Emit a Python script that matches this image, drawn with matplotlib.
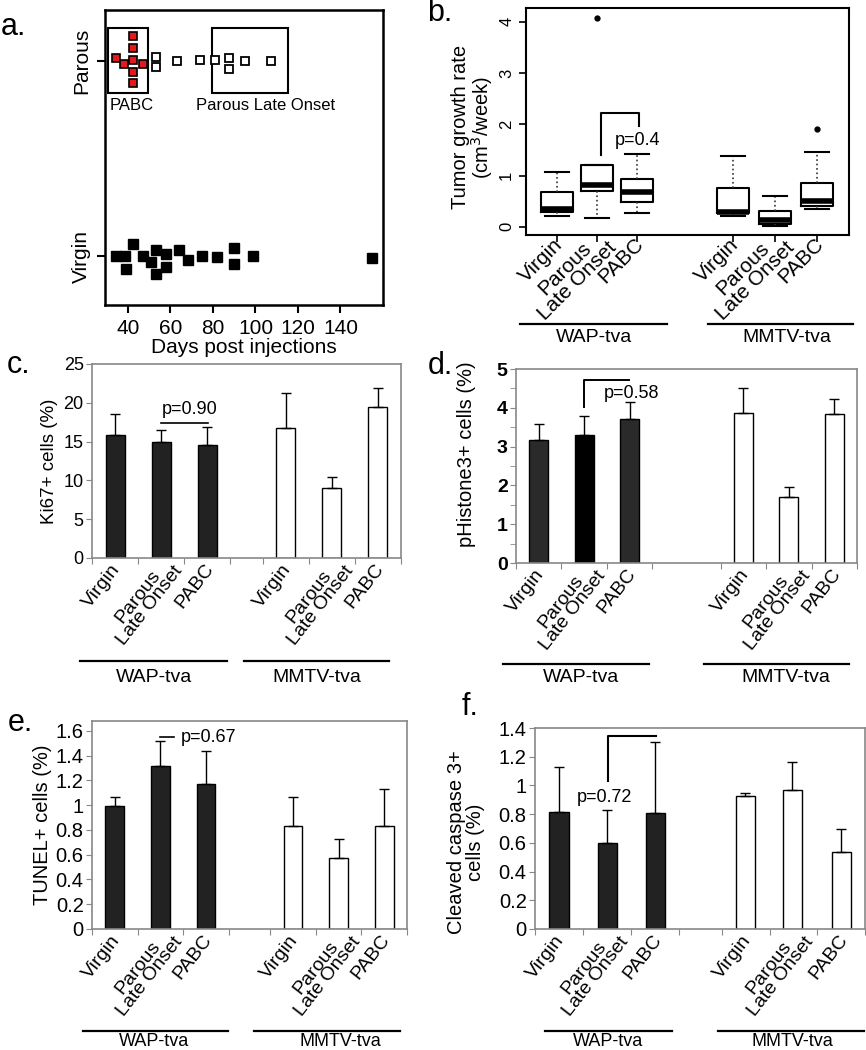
import matplotlib
matplotlib.use("Agg")
import matplotlib.pyplot as plt
from matplotlib.patches import Rectangle
from matplotlib.lines import Line2D
from matplotlib.transforms import ScaledTranslation

plt.rcParams["font.family"] = ["Liberation Sans", "DejaVu Sans"]

# ==========================================
# Data
# ==========================================

# panel a: onset (days post injection) per tumor, with stacking offsets
pabc_days = [34.2, 38.0, 42.2, 42.2, 42.2, 42.2, 42.2, 47.0]
pabc_y = [2.014, 1.983, 2.126, 2.065, 2.003, 1.942, 1.884, 1.983]
late_days = [53.1, 53.1, 63.1, 73.9, 81.1, 87.7, 87.7, 95.0, 107.2]
late_y = [2.017, 1.970, 2.0, 2.003, 2.003, 2.014, 1.960, 2.0, 2.0]
virgin_days = [34.5, 38.4, 39.1, 42.2, 47.0, 50.9, 53.1, 53.1, 58.0,
               58.0, 64.2, 68.1, 75.0, 82.0, 90.0, 90.0, 98.9, 154.8]
virgin_y = [1.0, 1.0, 0.935, 1.061, 1.0, 0.969, 1.034, 0.911, 1.010,
            0.942, 1.031, 0.980, 1.0, 0.997, 1.041, 0.962, 1.0, 0.993]
group_labels = ["Virgin", "Parous"]
pabc_window = (30.6, 49.4)
late_window = (79.4, 115.2)

# panel b: tumor growth rate box plot stats
box_lo = [0.22, 0.18, 0.27, 0.22, 0.02, 0.34]
box_q1 = [0.29, 0.70, 0.48, 0.27, 0.06, 0.40]
box_med = [0.34, 0.82, 0.68, 0.29, 0.14, 0.50]
box_q3 = [0.68, 1.21, 0.94, 0.75, 0.30, 0.86]
box_hi = [1.06, 1.21, 1.43, 1.38, 0.61, 1.46]
box_out = [[], [4.08], [], [], [], [1.90]]

categories = ["Virgin", "Parous\nLate Onset", "PABC"] * 2

# panels c-f: mean and upper error
ki67_mean = [15.8, 14.9, 14.5, 16.75, 9.05, 19.5]
ki67_err = [2.7, 1.6, 2.4, 4.55, 1.35, 2.4]
ph3_mean = [3.16, 3.30, 3.70, 3.87, 1.69, 3.84]
ph3_err = [0.43, 0.50, 0.46, 0.65, 0.27, 0.38]
tunel_mean = [0.995, 1.32, 1.17, 0.83, 0.573, 0.834]
tunel_err = [0.075, 0.20, 0.27, 0.235, 0.157, 0.293]
casp_mean = [0.818, 0.601, 0.811, 0.925, 0.969, 0.538]
casp_err = [0.309, 0.231, 0.491, 0.025, 0.193, 0.156]

W, H = 866, 1050
fig = plt.figure(figsize=(W / 100, H / 100), dpi=100)


def rect(x0, y0, x1, y1):
    return [x0 / W, 1 - y1 / H, (x1 - x0) / W, (y1 - y0) / H]


def fig_line(x0, x1, y):
    fig.add_artist(Line2D([x0 / W, x1 / W], [1 - y / H, 1 - y / H],
                          transform=fig.transFigure, color="black", lw=1.6))


def fig_text(x, y, s, **kw):
    fig.text(x / W, 1 - y / H, s, **kw)


def groups(wap, mmtv, yline, ytext, va="center", size=14):
    fig_line(wap[0], wap[1], yline)
    fig_line(mmtv[0], mmtv[1], yline)
    fig_text(wap[2], ytext, "WAP-tva", ha="center", va=va, fontsize=size)
    fig_text(mmtv[2], ytext, "MMTV-tva", ha="center", va=va, fontsize=size)


def cat_labels(ax, pos, single, double, rot, size):
    # rotated category names, centred a fixed pixel offset below each bar
    for x, lab in zip(pos, categories):
        dx, dy = double if "\n" in lab else single
        tr = ax.get_xaxis_transform() + ScaledTranslation(
            dx / 100, -dy / 100, fig.dpi_scale_trans)
        ax.text(x, 0, lab, transform=tr, rotation=rot, rotation_mode="anchor",
                ha="center", va="center", multialignment="center",
                linespacing=0.85, fontsize=size, clip_on=False)


# ==========================================
# a. onset strip chart
# ==========================================

ax = fig.add_axes(rect(105, 10, 383, 305))
ax.plot(virgin_days, virgin_y, "s", color="black", ms=7.2, ls="none")
ax.plot(late_days, late_y, "s", mfc="white", mec="black", mew=1.3, ms=5.6, ls="none")
ax.plot(pabc_days, pabc_y, "s", mfc="#e4191c", mec="black", mew=1.2, ms=5.6, ls="none")
for w in (pabc_window, late_window):
    ax.add_patch(Rectangle((w[0], 1.833), w[1] - w[0], 0.334,
                           fill=False, ec="black", lw=1.5))
ax.text(31.5, 1.77, "PABC", fontsize=12, va="center")
ax.text(72.0, 1.77, "Parous Late Onset", fontsize=12, va="center")
ax.set_xlim(29.2, 160)
ax.set_ylim(0.75, 2.26)
ax.set_xticks(range(40, 141, 20))
ax.set_yticks([1, 2])
ax.set_yticklabels(group_labels, rotation=90, va="center", fontsize=15)
ax.tick_params(labelsize=15, width=1.5, length=6, pad=4)
ax.set_xlabel("Days post injections", fontsize=15, labelpad=0)
for s in ax.spines.values():
    s.set_linewidth(1.8)
fig_text(13, 27, "a.", fontsize=22, ha="center", va="center")

# ==========================================
# b. growth rate box plot
# ==========================================

ax = fig.add_axes(rect(526, 8, 849, 235))
pos_b = [1, 2, 3, 5.4, 6.45, 7.5]
stats = []
for i in range(6):
    stats.append(dict(whislo=box_lo[i], q1=box_q1[i], med=box_med[i],
                      q3=box_q3[i], whishi=box_hi[i], fliers=box_out[i]))
ax.bxp(stats, positions=pos_b, widths=0.8, capwidths=0.6,
       boxprops=dict(color="black", lw=1.5),
       medianprops=dict(color="black", lw=4, solid_capstyle="butt"),
       whiskerprops=dict(color="#333333", lw=1.2, ls=":"),
       capprops=dict(color="black", lw=1.5),
       flierprops=dict(marker="o", mfc="black", mec="black", ms=3.5))
ax.plot([2.1, 2.1, 3.05, 3.05], [1.40, 2.23, 2.23, 1.97], color="black", lw=1.5)
ax.text(3.02, 1.69, "p=0.4", ha="center", va="center", fontsize=13)
ax.set_xlim(0.22, 8.3)
ax.set_ylim(-0.16, 4.27)
ax.set_yticks([0, 1, 2, 3, 4])
ax.set_yticklabels(["0", "1", "2", "3", "4"], rotation=90, va="center")
ax.set_xticks(pos_b)
ax.set_xticklabels([])
ax.tick_params(labelsize=12, width=1.2, length=5)
cat_labels(ax, pos_b, (-16, 26), (-26, 40), 45, 15)
ax.set_ylabel("Tumor growth rate\n(cm$^3$/week)", fontsize=14.5, linespacing=0.95,
              va="center")
ax.yaxis.set_label_coords(-0.163, 0.476)
for s in ax.spines.values():
    s.set_linewidth(1.5)
fig_text(440, 13, "b.", fontsize=22, ha="center", va="center")
groups((520, 667, 594), (708, 853, 787), 324, 338)


# ==========================================
# c-f. bar charts
# ==========================================

def bar_panel(box, mean, err, pos, xlim, minor, ylim, yticks, yticklabels,
              ylabel, label_xy, ylab_size=14, tick_size=13, bold=False,
              width=0.41, wap_colors=("#222222",) * 3):
    ax = fig.add_axes(rect(*box))
    colors = list(wap_colors) + ["white"] * 3
    ax.bar(pos, mean, width=width, color=colors, edgecolor="black", lw=1.0)
    ax.errorbar(pos, mean, yerr=[[0] * 6, err], fmt="none", ecolor="black",
                elinewidth=1.0, capsize=3.5, capthick=1.0)
    ax.set_xlim(*xlim)
    ax.set_ylim(*ylim)
    ax.set_yticks(yticks)
    ax.set_yticklabels(yticklabels, fontsize=tick_size,
                       fontweight="bold" if bold else "normal")
    ax.set_xticks(minor)
    ax.set_xticklabels([])
    ax.tick_params(axis="x", length=4, color="#888888")
    ax.tick_params(axis="y", length=4, color="#888888", pad=2)
    cat_labels(ax, pos, (-13, 28), (-17, 43), 52, 14)
    for s in ax.spines.values():
        s.set_color("#888888")
        s.set_linewidth(1.2)
    ax.set_ylabel(ylabel, fontsize=ylab_size, linespacing=1.0, va="center")
    ax.yaxis.set_label_coords(*label_xy)
    return ax


# c. Ki67
ax = bar_panel((92, 364, 401, 558), ki67_mean, ki67_err,
               [0, 1, 2, 3.7, 4.7, 5.7], (-0.5, 6.2),
               [-0.5, 0.5, 1.5, 2.5, 3.2, 4.2, 5.2, 6.2], (0, 25),
               [0, 5, 10, 15, 20, 25], ["0", "5", "10", "15", "20", "25"],
               "Ki67+ cells (%)", (-0.136, 0.5), ylab_size=13.5, tick_size=13)
ax.plot([1.0, 2.02], [17.4, 17.4], color="black", lw=1.2)
ax.text(1.62, 19.2, "p=0.90", ha="center", va="center", fontsize=13)
fig_text(19, 365, "c.", fontsize=22, ha="center", va="center")
groups((80, 227, 154), (244, 389, 317), 661, 678)

# d. pHistone3
ax = bar_panel((516, 369, 857, 563), ph3_mean, ph3_err,
               [0, 1, 2, 4.5, 5.5, 6.5], (-0.5, 7.0),
               [-0.5, 0.5, 1.5, 2.5, 4, 5, 6, 7], (0, 5),
               [0, 1, 2, 3, 4, 5], ["0", "1", "2", "3", "4", "5"],
               "pHistone3+ cells (%)", (-0.144, 0.56), ylab_size=14.5,
               tick_size=14, bold=True,
               wap_colors=("#2a2a2a", "#000000", "#2a2a2a"))
ax.set_yticks([0.5, 1.5, 2.5, 3.5, 4.5], minor=True)
ax.tick_params(axis="y", which="minor", length=4, color="#888888")
ax.plot([1.0, 1.0, 1.98], [4.02, 4.72, 4.72], color="black", lw=1.4)
ax.text(2.04, 4.38, "p=0.58", ha="center", va="center", fontsize=13)
fig_text(440, 366, "d.", fontsize=22, ha="center", va="center")
groups((503, 649, 581), (704, 849, 786), 664, 678)

# e. TUNEL
e_ticks = [0, 0.2, 0.4, 0.6, 0.8, 1.0, 1.2, 1.4, 1.6]
e_labels = ["0", "0.2", "0.4", "0.6", "0.8", "1", "1.2", "1.4", "1.6"]
ax = bar_panel((92, 721, 407, 929), tunel_mean, tunel_err,
               [0, 1, 2, 3.9, 4.9, 5.9], (-0.5, 6.4),
               [-0.5, 0.5, 1.5, 2.5, 3.4, 4.4, 5.4, 6.4], (0, 1.68),
               e_ticks, e_labels, "TUNEL+ cells (%)", (-0.156, 0.5),
               ylab_size=14.5, tick_size=14.5)
ax.plot([1.0, 1.3], [1.55, 1.55], color="black", lw=1.2)
ax.text(1.45, 1.55, "p=0.67", ha="left", va="center", fontsize=13)
fig_text(20, 723, "e.", fontsize=22, ha="center", va="center")
groups((83, 228, 154), (254, 400, 340), 1030.7, 1046, va="baseline", size=13)

# f. cleaved caspase 3
f_ticks = [0, 0.2, 0.4, 0.6, 0.8, 1.0, 1.2, 1.4]
f_labels = ["0", "0.2", "0.4", "0.6", "0.8", "1", "1.2", "1.4"]
ax = bar_panel((535, 728, 865, 929), casp_mean, casp_err,
               [0, 1, 2, 3.87, 4.85, 5.87], (-0.5, 6.36),
               [-0.5, 0.5, 1.5, 2.5, 3.38, 4.38, 5.36, 6.36], (0, 1.4),
               f_ticks, f_labels, "Cleaved caspase 3+\ncells (%)", (-0.208, 0.43),
               ylab_size=14.5, tick_size=14.5, width=0.40)
ax.plot([1.01, 1.01, 2.02], [1.034, 1.342, 1.342], color="black", lw=1.5)
ax.text(0.94, 0.918, "p=0.72", ha="center", va="center", fontsize=13)
fig_text(470, 707, "f.", fontsize=22, ha="center", va="center")
groups((545, 672, 608), (718, 864, 792), 1030.7, 1046, va="baseline", size=13)

plt.savefig("out.png", dpi=100)
plt.close()
